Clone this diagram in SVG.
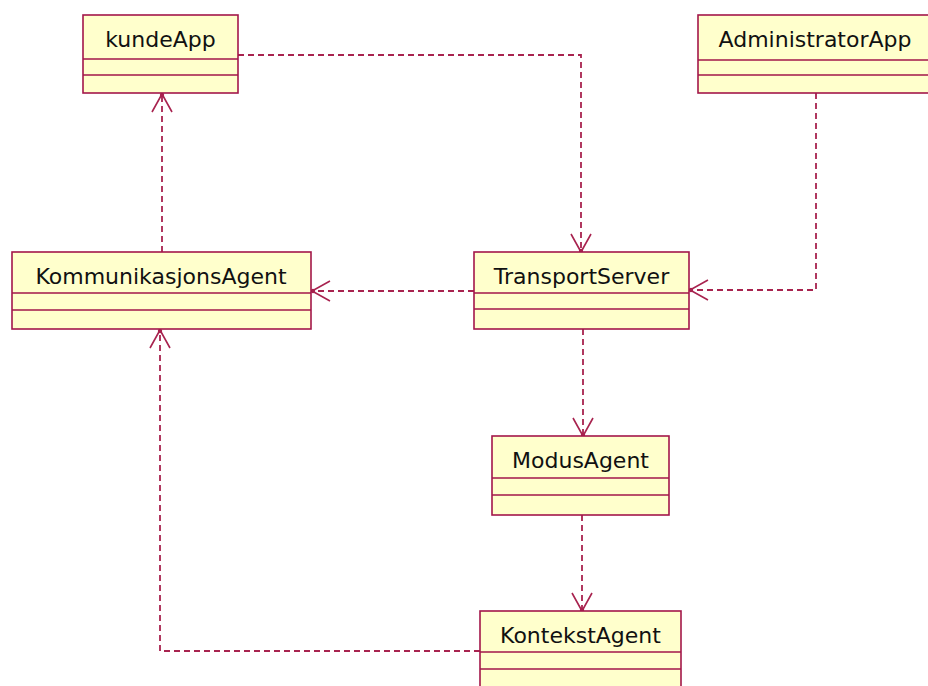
<svg xmlns="http://www.w3.org/2000/svg" width="928" height="686" viewBox="0 0 928 686">
  <style>
    .box { fill: #ffffcc; stroke: #a3174a; stroke-width: 1.6; }
    .div { stroke: #a3174a; stroke-width: 1.6; fill: none; }
    .name { font-family: "DejaVu Sans", Verdana, sans-serif; font-size: 22px; fill: #111; text-anchor: middle; }
    .dep { fill: none; stroke: #a8234f; stroke-width: 1.8; stroke-dasharray: 6 4; }
  </style>
  <defs>
    <marker id="open" markerUnits="userSpaceOnUse" viewBox="-21 -12 24 24" refX="0" refY="0" markerWidth="24" markerHeight="24" orient="auto">
      <path d="M-18,-10 L0,0 L-18,10" fill="none" stroke="#a8234f" stroke-width="1.6"/>
      <circle cx="-1" cy="0" r="2.2" fill="#a8234f"/>
    </marker>
  </defs>
  <rect width="928" height="686" fill="#ffffff"/>

  <!-- dependency connectors -->
  <g id="connectors">
    <path class="dep" d="M162,252 L162,94" marker-end="url(#open)"/>
    <path class="dep" d="M238,55 L581,55 L581,252" marker-end="url(#open)"/>
    <path class="dep" d="M816,93 L816,290 L690,290" marker-end="url(#open)"/>
    <path class="dep" d="M474,291 L312,291" marker-end="url(#open)"/>
    <path class="dep" d="M583,329 L583,436" marker-end="url(#open)"/>
    <path class="dep" d="M582,515 L582,611" marker-end="url(#open)"/>
    <path class="dep" d="M480,651 L160,651 L160,330" marker-end="url(#open)"/>
  </g>

  <g id="kundeApp">
    <rect class="box" x="83" y="15" width="155" height="78"/>
    <path class="div" d="M83,59 H238 M83,75 H238"/>
    <text class="name" x="160.5" y="47">kundeApp</text>
  </g>

  <g id="AdministratorApp">
    <rect class="box" x="698" y="15" width="234" height="78"/>
    <path class="div" d="M698,60 H932 M698,75 H932"/>
    <text class="name" x="815" y="47">AdministratorApp</text>
  </g>

  <g id="KommunikasjonsAgent">
    <rect class="box" x="12" y="252" width="299" height="77"/>
    <path class="div" d="M12,293 H311 M12,310 H311"/>
    <text class="name" x="161" y="284">KommunikasjonsAgent</text>
  </g>

  <g id="TransportServer">
    <rect class="box" x="474" y="252" width="215" height="77"/>
    <path class="div" d="M474,293 H689 M474,309 H689"/>
    <text class="name" x="581.5" y="284">TransportServer</text>
  </g>

  <g id="ModusAgent">
    <rect class="box" x="492" y="436" width="177" height="79"/>
    <path class="div" d="M492,478 H669 M492,495 H669"/>
    <text class="name" x="580.5" y="468">ModusAgent</text>
  </g>

  <g id="KontekstAgent">
    <rect class="box" x="480" y="611" width="201" height="90"/>
    <path class="div" d="M480,652 H681 M480,669 H681"/>
    <text class="name" x="580.5" y="643">KontekstAgent</text>
  </g>
</svg>
